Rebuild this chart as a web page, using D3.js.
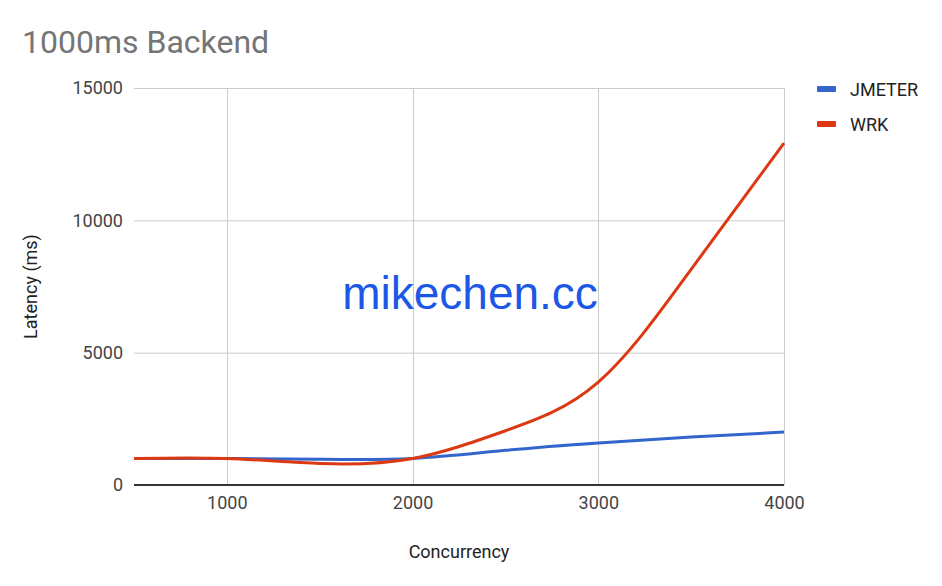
<!DOCTYPE html>
<html>
<head>
<meta charset="utf-8">
<script src="https://cdn.jsdelivr.net/npm/d3@7/dist/d3.min.js"></script>
<style>
  html, body { margin: 0; padding: 0; background: #fff; }
  svg { display: block; font-family: Roboto, "Liberation Sans", Arial, sans-serif; }
</style>
</head>
<body>
<svg id="chart" width="942" height="586"></svg>
<script>
const concurrency = [500, 1000, 1500, 2000, 2500, 3000, 3500, 4000];
const jmeter = [1000, 1000, 970, 1000, 1310, 1590, 1810, 2000];
const wrk = [1000, 1000, 810, 1000, 2050, 3890, 8150, 12920];
const seriesNames = ["JMETER", "WRK"];
const seriesColors = ["#3366cc", "#dc3912"];
const xTicks = [1000, 2000, 3000, 4000];
const yTicks = [0, 5000, 10000, 15000];
const title = "1000ms Backend";
const xTitle = "Concurrency";
const yTitle = "Latency (ms)";
const watermark = "mikechen.cc";

const svg = d3.select("#chart");
const pL = 134, pR = 784, pT = 88, pB = 485;

const x = d3.scaleLinear().domain([500, 4000]).range([pL, pR]);
const y = d3.scaleLinear().domain([0, 15000]).range([pB, pT]);

// Title
svg.append("text").attr("x", 22).attr("y", 53)
  .attr("font-size", 32).attr("fill", "#757575").text(title);

// Gridlines
const grid = svg.append("g");
grid.selectAll("line.h").data(yTicks.filter(d => d !== 0)).join("line")
  .attr("x1", pL).attr("x2", pR)
  .attr("y1", d => y(d) + 0.5).attr("y2", d => y(d) + 0.5)
  .attr("stroke", "#cccccc").attr("stroke-width", 1);
grid.selectAll("line.v").data(xTicks).join("line")
  .attr("x1", d => Math.round(x(d)) + 0.5).attr("x2", d => Math.round(x(d)) + 0.5)
  .attr("y1", pT).attr("y2", pB)
  .attr("stroke", "#cccccc").attr("stroke-width", 1);

// Axes labels via d3 axes
const yAxis = d3.axisLeft(y).tickValues(yTicks).tickSize(0).tickPadding(11).tickFormat(d3.format("d"));
const yg = svg.append("g").attr("transform", `translate(${pL},0)`).call(yAxis);
yg.select(".domain").remove();
yg.selectAll("text").attr("font-size", 18).attr("fill", "#444").attr("font-family", "Roboto, sans-serif");

const xAxis = d3.axisBottom(x).tickValues(xTicks).tickSize(0).tickPadding(11).tickFormat(d3.format("d"));
const xg = svg.append("g").attr("transform", `translate(0,${pB})`).call(xAxis);
xg.select(".domain").remove();
xg.selectAll("text").attr("font-size", 18).attr("fill", "#444").attr("font-family", "Roboto, sans-serif");

// Axis titles
svg.append("text").attr("x", (pL + pR) / 2).attr("y", 558)
  .attr("text-anchor", "middle").attr("font-size", 18).attr("fill", "#222").text(xTitle);
svg.append("text").attr("transform", `translate(37,${(pT + pB) / 2}) rotate(-90)`)
  .attr("text-anchor", "middle").attr("font-size", 18).attr("fill", "#222").text(yTitle);

// Watermark
svg.append("text").attr("x", 470).attr("y", 309).attr("text-anchor", "middle")
  .attr("font-family", "'Liberation Sans', Arial, sans-serif")
  .attr("font-size", 46).attr("fill", "#1c57e6").text(watermark);

// Lines
const data = [jmeter, wrk];
const line = d3.line().x((d, i) => x(concurrency[i])).y(d => y(d)).curve(d3.curveNatural);
svg.append("g").selectAll("path").data(data).join("path")
  .attr("d", d => line(d)).attr("fill", "none")
  .attr("stroke", (d, i) => seriesColors[i]).attr("stroke-width", 3)
  .attr("stroke-linejoin", "round");

// Baseline
svg.append("line").attr("x1", pL).attr("x2", pR)
  .attr("y1", y(0)).attr("y2", y(0)).attr("stroke", "#333").attr("stroke-width", 2);

// Legend
const lg = svg.append("g").selectAll("g").data(seriesNames).join("g")
  .attr("transform", (d, i) => `translate(817,${89 + i * 35})`);
lg.append("rect").attr("x", 0).attr("y", -3).attr("width", 19).attr("height", 6).attr("rx", 1)
  .attr("fill", (d, i) => seriesColors[i]);
lg.append("text").attr("x", 33).attr("y", 7).attr("font-size", 18).attr("fill", "#222").text(d => d);
</script>
</body>
</html>
